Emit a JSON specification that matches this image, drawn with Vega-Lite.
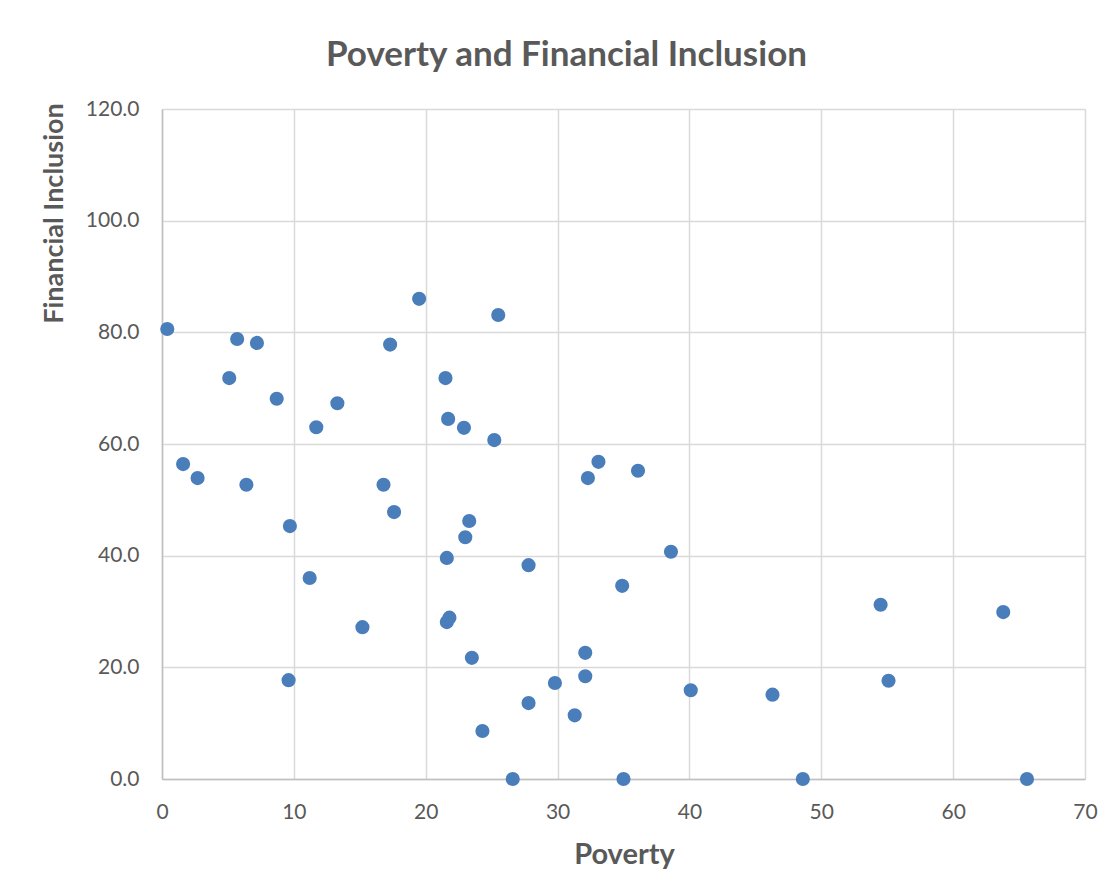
{
  "$schema": "https://vega.github.io/schema/vega-lite/v6.json",
  "width": 923,
  "height": 670,
  "autosize": {"type": "none"},
  "padding": {"left": 162, "top": 109, "right": 26, "bottom": 117},
  "background": "white",
  "title": {
    "text": "Poverty and Financial Inclusion",
    "frame": "group",
    "anchor": "middle",
    "dx": -57,
    "baseline": "alphabetic",
    "offset": -3,
    "font": "Lato",
    "fontSize": 35,
    "fontWeight": "bold",
    "color": "#595959"
  },
  "data": {
    "values": [
      {"poverty": 0.4, "fi": 80.6},
      {"poverty": 1.6, "fi": 56.4},
      {"poverty": 2.7, "fi": 53.9},
      {"poverty": 5.1, "fi": 71.8},
      {"poverty": 5.7, "fi": 78.8},
      {"poverty": 6.4, "fi": 52.7},
      {"poverty": 7.2, "fi": 78.1},
      {"poverty": 8.7, "fi": 68.1},
      {"poverty": 9.7, "fi": 45.3},
      {"poverty": 9.6, "fi": 17.7},
      {"poverty": 11.2, "fi": 36.0},
      {"poverty": 11.7, "fi": 63.0},
      {"poverty": 13.3, "fi": 67.3},
      {"poverty": 15.2, "fi": 27.2},
      {"poverty": 16.8, "fi": 52.7},
      {"poverty": 17.3, "fi": 77.8},
      {"poverty": 17.6, "fi": 47.8},
      {"poverty": 19.5, "fi": 86.0},
      {"poverty": 21.5, "fi": 71.8},
      {"poverty": 21.7, "fi": 64.5},
      {"poverty": 21.6, "fi": 39.6},
      {"poverty": 21.6, "fi": 28.1},
      {"poverty": 21.8, "fi": 28.9},
      {"poverty": 22.9, "fi": 62.9},
      {"poverty": 23.3, "fi": 46.2},
      {"poverty": 23.0, "fi": 43.3},
      {"poverty": 23.5, "fi": 21.7},
      {"poverty": 24.3, "fi": 8.6},
      {"poverty": 25.2, "fi": 60.7},
      {"poverty": 25.5, "fi": 83.1},
      {"poverty": 26.6, "fi": 0.0},
      {"poverty": 27.8, "fi": 38.3},
      {"poverty": 27.8, "fi": 13.6},
      {"poverty": 29.8, "fi": 17.2},
      {"poverty": 31.3, "fi": 11.4},
      {"poverty": 32.1, "fi": 22.6},
      {"poverty": 32.1, "fi": 18.4},
      {"poverty": 32.3, "fi": 53.9},
      {"poverty": 33.1, "fi": 56.8},
      {"poverty": 34.9, "fi": 34.6},
      {"poverty": 35.0, "fi": 0.0},
      {"poverty": 36.1, "fi": 55.2},
      {"poverty": 38.6, "fi": 40.7},
      {"poverty": 40.1, "fi": 15.9},
      {"poverty": 46.3, "fi": 15.1},
      {"poverty": 48.6, "fi": 0.0},
      {"poverty": 54.5, "fi": 31.2},
      {"poverty": 55.1, "fi": 17.6},
      {"poverty": 63.8, "fi": 29.9},
      {"poverty": 65.6, "fi": 0.0}
    ]
  },
  "mark": {"type": "circle", "size": 200, "color": "#4A7EBB", "opacity": 1},
  "encoding": {
    "x": {
      "field": "poverty",
      "type": "quantitative",
      "scale": {"domain": [0, 70], "nice": false, "zero": true},
      "axis": {
        "title": "Poverty",
        "values": [0, 10, 20, 30, 40, 50, 60, 70],
        "titleX": 462,
        "titleY": 84,
        "titleFontSize": 29,
        "titleBaseline": "alphabetic",
        "labelPadding": 39,
        "labelBaseline": "alphabetic",
        "labelFlush": false
      }
    },
    "y": {
      "field": "fi",
      "type": "quantitative",
      "scale": {"domain": [0, 120], "nice": false},
      "axis": {
        "title": "Financial Inclusion",
        "values": [0, 20, 40, 60, 80, 100, 120],
        "format": ".1f",
        "titleX": -100,
        "titleY": 104,
        "titleFontSize": 27,
        "titleAngle": -90,
        "titleAlign": "center",
        "titleBaseline": "alphabetic",
        "labelPadding": 23,
        "labelFlush": false
      }
    }
  },
  "config": {
    "view": {"stroke": null},
    "axis": {
      "labelFont": "Lato",
      "labelFontSize": 21,
      "labelColor": "#595959",
      "titleFont": "Lato",
      "titleFontWeight": "bold",
      "titleColor": "#595959",
      "ticks": false,
      "tickSize": 0,
      "grid": true,
      "gridColor": "#d9d9d9",
      "gridWidth": 1.5,
      "domainColor": "#bfbfbf",
      "domainWidth": 1.5
    }
  }
}
